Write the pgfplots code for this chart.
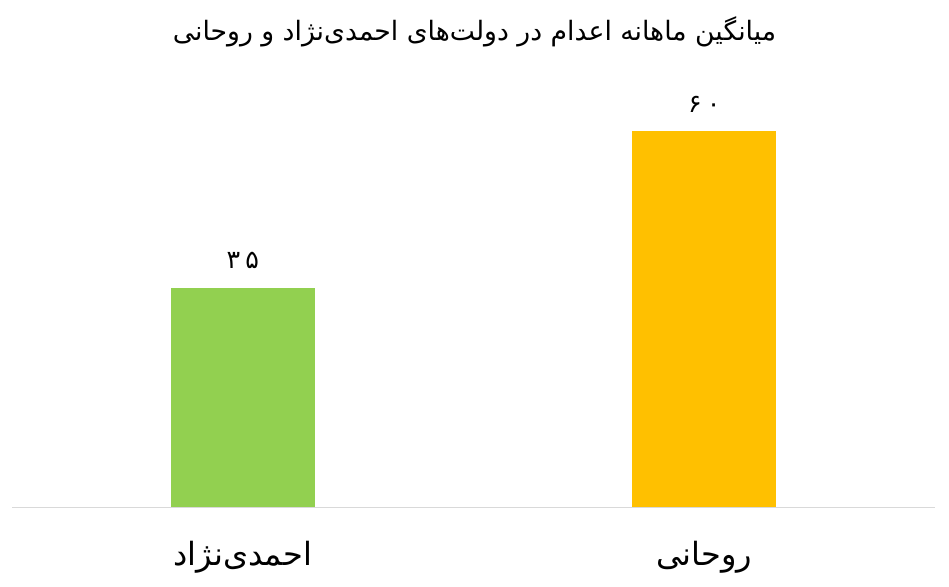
\documentclass[border=0pt]{standalone}
\usepackage{pgfplots}
\pgfplotsset{compat=1.18}
\usepackage{fontspec}
\setmainfont{Liberation Sans}
\newfontfamily\arabicfont[Script=Arabic]{DejaVu Sans}
\newfontfamily\digitfont[Script=Arabic,LetterSpace=20]{DejaVu Sans}
\TeXXeTstate=1
\definecolor{cgreen}{HTML}{92D050}
\definecolor{corange}{HTML}{FFC000}
\definecolor{cline}{HTML}{D9D9D9}
\begin{document}
\begin{tikzpicture}[x=1pt,y=1pt]
\useasboundingbox (0,0) rectangle (711.75,439.5);
\begin{axis}[
  at={(9pt,59.25pt)}, anchor=south west,
  scale only axis, width=692.25pt, height=329.25pt,
  xmin=-0.5, xmax=1.5, ymin=0, ymax=70,
  axis x line=bottom, hide y axis,
  x axis line style={draw=cline, line width=0.75pt, -},
  xtick={0,1}, major tick length=0pt,
  xticklabels={{\arabicfont\beginR احمدی‌نژاد\endR},{\arabicfont\beginR روحانی\endR}},
  xticklabel style={anchor=base, yshift=-44pt, font=\fontsize{24pt}{26pt}\selectfont, text=black},
  ybar, bar width=0.313,
  point meta=explicit symbolic,
  nodes near coords={\digitfont\pgfplotspointmeta},
  nodes near coords style={anchor=base, yshift=14pt, text=black, font=\fontsize{19pt}{21pt}\selectfont},
  clip=false,
]
\addplot+[draw=none, fill=cgreen, bar shift=0pt] coordinates {(0,35) [۳۵]};
\addplot+[draw=none, fill=corange, bar shift=0pt] coordinates {(1,60) [۶۰]};
\end{axis}
\node[anchor=base, font=\fontsize{20pt}{22pt}\selectfont] at (355.9,409) {\arabicfont\beginR میانگین ماهانه اعدام در دولت‌های احمدی‌نژاد و روحانی\endR};
\end{tikzpicture}
\end{document}
